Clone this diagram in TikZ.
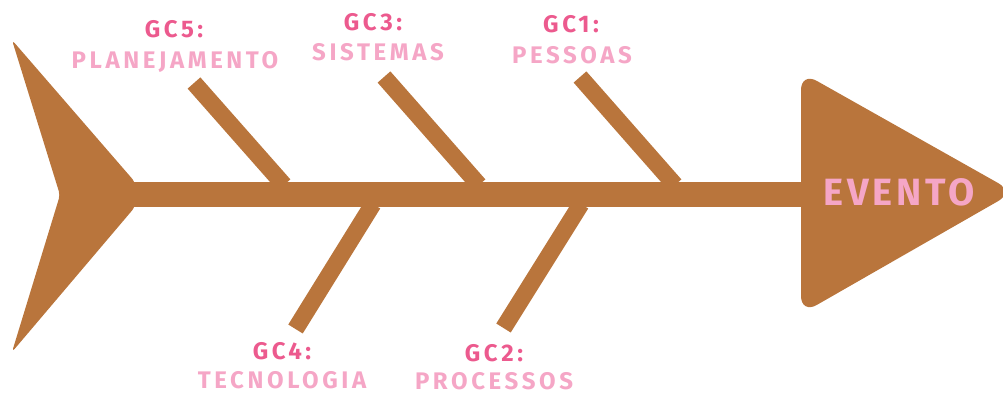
\documentclass[tikz,border=0pt]{standalone}
\usepackage{fontspec}
\setmainfont{Fira Sans}
\newfontfamily\lblfont[LetterSpace=15]{Fira Sans}
\newfontfamily\evfont[LetterSpace=10]{Fira Sans}
\definecolor{bone}{HTML}{B9753C}
\definecolor{gcpink}{HTML}{EC5A8E}
\definecolor{lightpink}{HTML}{F5A6C6}
\begin{document}
\begin{tikzpicture}[x=1pt,y=-1pt,
  bonestyle/.style={draw=bone,line width=17pt,line cap=butt},
  gclabel/.style={anchor=base,inner sep=0pt,text=gcpink,font=\lblfont\bfseries\fontsize{24}{24}\selectfont},
  catlabel/.style={anchor=base,inner sep=0pt,text=lightpink,font=\lblfont\bfseries\fontsize{24}{24}\selectfont}]
\useasboundingbox (0,0) rectangle (1003,394);
% tail
\fill[bone,rounded corners=4pt] (12,40) -- (135,182) -- (135,207) -- (12,352) -- (60,195) -- cycle;
% spine
\fill[bone] (130,182) rectangle (820,207);
% head
\fill[bone,rounded corners=18pt] (801,72) -- (1014,192) -- (801,314) -- cycle;
\node[anchor=base,inner sep=0pt,text=lightpink,font=\evfont\bfseries\fontsize{38}{38}\selectfont] (evento) at (899,205) {EVENTO};
% bones
\coordinate (b5a) at (194,83);  \coordinate (b5b) at (284,185);
\coordinate (b3a) at (384,77);  \coordinate (b3b) at (479,185);
\coordinate (b1a) at (580,77);  \coordinate (b1b) at (675,185);
\coordinate (b4a) at (373,204); \coordinate (b4b) at (295.5,329);
\coordinate (b2a) at (581,204); \coordinate (b2b) at (503.5,328);
\draw[bonestyle] (b5a) -- (b5b);
\draw[bonestyle] (b3a) -- (b3b);
\draw[bonestyle] (b1a) -- (b1b);
\draw[bonestyle] (b4a) -- (b4b);
\draw[bonestyle] (b2a) -- (b2b);
% labels
\node[gclabel] (gc5) at (174,37) {GC5:};
\node[catlabel] (c5) at (175,68) {PLANEJAMENTO};
\node[gclabel] (gc3) at (373,30) {GC3:};
\node[catlabel] (c3) at (378,60) {SISTEMAS};
\node[gclabel] (gc1) at (571,32) {GC1:};
\node[catlabel] (c1) at (572,63) {PESSOAS};
\node[gclabel] (gc4) at (282,359) {GC4:};
\node[catlabel] (c4) at (282,388.5) {TECNOLOGIA};
\node[gclabel] (gc2) at (494,361) {GC2:};
\node[catlabel] (c2) at (494,389.5) {PROCESSOS};
\end{tikzpicture}
\end{document}
